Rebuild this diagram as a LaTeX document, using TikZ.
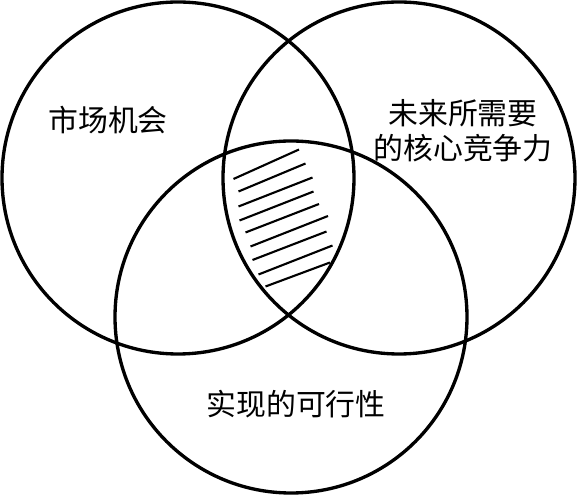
\documentclass[tikz,border=0pt]{standalone}
\usepackage{fontspec}
\usepackage{tikz}
\newfontfamily\cjk{Noto Sans CJK SC}
\tikzset{
    ring/.style={
        circle,
        draw=black,
        line width=1.9pt,
        minimum size=7.04cm,
        inner sep=0pt
    },
    lbl/.style={
        align=center,
        inner sep=0pt,
        font=\cjk\fontsize{17}{20}\selectfont
    },
    hatch/.style={line width=1.2pt,black}
}
\begin{document}
\begin{tikzpicture}
\useasboundingbox (0,0) rectangle (11.54,9.96);

\node[ring] (market) at (3.56,6.40) {};
\node[ring] (core) at (7.98,6.40) {};
\node[ring] (feasible) at (5.82,3.62) {};

\node[lbl] (marketlbl) at (2.16,7.56) {市场机会};
\node[lbl] (corelbl) at (9.26,7.34) {未来所需要\\的核心竞争力};
\node[lbl] (feasiblelbl) at (5.92,1.88) {实现的可行性};

% hatching of the common area
\foreach \a/\b in {
    {4.67,6.38}/{5.98,6.97},
    {4.77,6.13}/{6.11,6.69},
    {4.77,5.83}/{6.25,6.41},
    {4.79,5.55}/{6.27,6.13},
    {4.91,5.31}/{6.38,5.88},
    {5.01,5.03}/{6.56,5.64},
    {5.05,4.76}/{6.53,5.33},
    {5.17,4.47}/{6.65,5.05},
    {5.31,4.23}/{6.60,4.71}}
    \draw[hatch] (\a) -- (\b);
\end{tikzpicture}
\end{document}
